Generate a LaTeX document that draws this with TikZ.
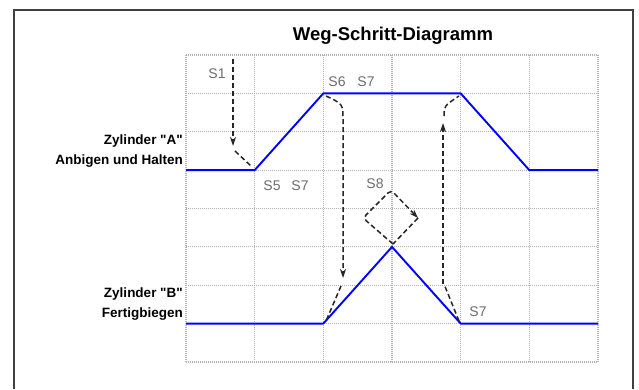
\documentclass[tikz,border=0pt]{standalone}
\usepackage{fontspec}
\setmainfont{Liberation Sans}[Ligatures=TeXOff]
\usetikzlibrary{arrows.meta}
\begin{document}
\begin{tikzpicture}[x=1pt,y=-1pt,
  gridline/.style={gray!60, line width=1.1pt, dash pattern=on 1pt off 1pt},
  motion/.style={blue, line width=1.9pt, line join=round},
  sig/.style={black!85, line width=1.5pt, dash pattern=on 5pt off 3pt},
  tip/.style={-{Stealth[length=9pt,width=6pt]}},
  slab/.style={text=gray!85!black, font=\fontsize{14}{14}\selectfont, inner sep=0pt},
  lab/.style={font=\bfseries\fontsize{13.5}{20.5}\selectfont, align=right, anchor=east, inner sep=0pt},
  ttl/.style={font=\bfseries\fontsize{18.5}{20}\selectfont, inner sep=0pt}]
\useasboundingbox (0,0) rectangle (639,389);
\fill[white] (0,0) rectangle (639,389);
\draw[black!75, line width=1.3pt] (14,389) -- (14,10) -- (633,10) -- (633,389);
% grid
\foreach \i in {0,...,6}{
  \draw[gridline] ({186+68.667*\i},55) -- ({186+68.667*\i},362);
}
\foreach \j in {0,...,8}{
  \draw[gridline] (186,{55+38.375*\j}) -- (598,{55+38.375*\j});
}
% title and labels
\node[ttl] (title) at (393,36) {Weg-Schritt-Diagramm};
\node[lab] (labA) at (183,151) {Zylinder "A"\\Anbigen und Halten};
\node[lab] (labB) at (183,304) {Zylinder "B"\\Fertigbiegen};
% motion coordinates
\coordinate (A0) at (186,170.1);
\coordinate (A1) at (254.7,170.1);
\coordinate (A2) at (323.3,93.4);
\coordinate (A3) at (460.7,93.4);
\coordinate (A4) at (529.3,170.1);
\coordinate (A5) at (598,170.1);
\coordinate (B0) at (186,323.6);
\coordinate (B1) at (323.3,323.6);
\coordinate (B2) at (392,246.9);
\coordinate (B3) at (460.7,323.6);
\coordinate (B4) at (598,323.6);
\draw[motion] (A0) -- (A1) -- (A2) -- (A3) -- (A4) -- (A5);
\draw[motion] (B0) -- (B1) -- (B2) -- (B3) -- (B4);
% step labels
\node[slab] (s1) at (217,74) {S1};
\node[slab] (s5) at (272,186) {S5};
\node[slab] (s7a) at (300,186) {S7};
\node[slab] (s6) at (337,82) {S6};
\node[slab] (s7b) at (366,82) {S7};
\node[slab] (s8) at (375,184) {S8};
\node[slab] (s7c) at (478,312) {S7};
% signal coordinates
\coordinate (q1a) at (233,59);
\coordinate (q1b) at (233,146);
\coordinate (q1c) at (235,151);
\coordinate (q1d) at (251,166);
\coordinate (q2a) at (326,96);
\coordinate (q2b) at (343,120);
\coordinate (q2c) at (343,278);
\coordinate (q2d) at (341,286);
\coordinate (q2e) at (326,321);
\coordinate (q3a) at (459,321);
\coordinate (q3b) at (444,284);
\coordinate (q3c) at (443,284);
\coordinate (q3d) at (443,123);
\coordinate (q3e) at (444,116);
\coordinate (q3f) at (459,96);
\coordinate (dL) at (363,218);
\coordinate (dT) at (391,190);
\coordinate (dR) at (418,218);
\coordinate (dP) at (393,244);
% signal lines
\draw[sig, tip] (q1a) -- (q1b);
\draw[sig] (q1c) -- (q1d);
\draw[sig, tip] (q2a) .. controls (343,104) .. (q2b) -- (q2c);
\draw[sig] (q2d) -- (q2e);
\draw[sig] (q3a) -- (q3b);
\draw[sig, tip] (q3c) -- (q3d);
\draw[sig] (q3e) .. controls (444,106) .. (q3f);
\draw[sig, tip, rounded corners=4pt] (dP) -- (dL) -- (dT) -- (dR);
\draw[sig] (dR) -- (dP);
\end{tikzpicture}
\end{document}
